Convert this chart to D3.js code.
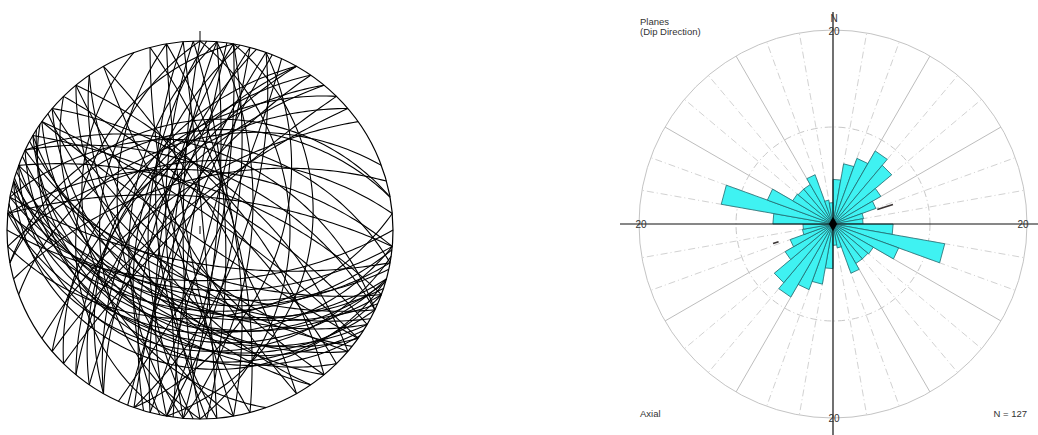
<!DOCTYPE html>
<html>
<head>
<meta charset="utf-8">
<script src="https://cdn.jsdelivr.net/npm/d3@7"></script>
<style>
  html, body { margin: 0; padding: 0; background: #fff; }
  svg { display: block; }
  text { font-family: "Liberation Sans", Arial, sans-serif; }
</style>
</head>
<body>
<svg id="chart" width="1038" height="435"></svg>
<script>
// ---- Planes: dip direction (deg from N) and dip (deg) ----
const planeDipDir = [
  // south-dipping set
  185, 190, 195, 200, 205, 210, 195, 188, 200, 192, 198, 205, 210, 215, 220,
  180, 175, 185, 195, 200, 208, 212, 218, 225, 190, 196, 203, 186, 230, 214,
  // steep, roughly N-S striking
  275, 280, 270, 285, 265, 290, 95, 100, 105, 88, 278, 272, 282, 110, 260,
  268, 95, 85, 292, 275, 100, 255, 115, 80, 287,
  // diagonal sets
  305, 310, 320, 300, 305, 310, 320, 300, 315, 315, 325, 300,
  30, 40, 45, 35, 50, 220, 230, 235, 240, 215, 25, 235, 60,
  // north-dipping set
  10, 5, 350, 355, 25, 345, 350, 20, 5, 340,
  // east / west moderate
  90, 100, 270, 280, 75, 260, 110, 250
];
const planeDip = [
  55, 48, 42, 38, 60, 35, 30, 25, 22, 52, 45, 28, 50, 40, 45,
  60, 40, 33, 18, 65, 55, 30, 62, 35, 70, 36, 47, 44, 50, 25,
  75, 68, 80, 72, 65, 78, 80, 70, 85, 75, 85, 60, 55, 65, 82,
  70, 60, 88, 82, 50, 78, 75, 80, 70, 64,
  48, 50, 50, 45, 70, 60, 75, 55, 80, 42, 65, 62,
  70, 60, 75, 80, 65, 70, 75, 60, 80, 85, 55, 50, 78,
  40, 55, 35, 50, 45, 60, 30, 65, 70, 40,
  40, 30, 35, 25, 70, 45, 45, 30
];

// ---- Rose diagram (axial): counts per 10-degree bin from 0 to 180 ----
const roseBinStart = [0, 10, 20, 30, 40, 50, 60, 70, 80, 90, 100, 110, 120, 130, 140, 150, 160, 170];
const roseCounts   = [4.6, 6.3, 7.2, 8.7, 7.9, 5.7, 4.7, 3.2, 3.1, 6.2, 11.7, 7.2, 4.8, 4.7, 4.7, 5.4, 2.5, 2.2];
const roseBinWidth = 10;
const roseMax = 20;
const ringValues = [10, 20];
const axisLabels = ["20", "20", "20", "20"];
const meanDirection = [72, 252];
const meanMarkFrom = [4.8, 5.9];
const meanMarkTo = [6.5, 6.5];
const sampleCount = 127;

const svg = d3.select("#chart");
const rad = Math.PI / 180;

// ================= Stereonet (equal angle, lower hemisphere) =================
const net = { cx: 200, cy: 230, rx: 193, ry: 189 };
const nx = d3.scaleLinear().domain([-1, 1]).range([net.cx - net.rx, net.cx + net.rx]);
const ny = d3.scaleLinear().domain([-1, 1]).range([net.cy + net.ry, net.cy - net.ry]);

// line of trend/plunge -> projected position
function project(trend, plunge) {
  const r = Math.tan((90 - plunge) * rad / 2);
  return [nx(r * Math.sin(trend * rad)), ny(r * Math.cos(trend * rad))];
}

function greatCircle(dd, dip) {
  const s = [Math.sin((dd - 90) * rad), Math.cos((dd - 90) * rad), 0];
  const d = [Math.sin(dd * rad) * Math.cos(dip * rad), Math.cos(dd * rad) * Math.cos(dip * rad), Math.sin(dip * rad)];
  const pts = [];
  for (let t = 0; t <= 180; t += 1.5) {
    const c = Math.cos(t * rad), sn = Math.sin(t * rad);
    const v = [c * s[0] + sn * d[0], c * s[1] + sn * d[1], c * s[2] + sn * d[2]];
    const plunge = Math.asin(Math.max(-1, Math.min(1, v[2]))) / rad;
    const trend = Math.atan2(v[0], v[1]) / rad;
    pts.push(project(trend, plunge));
  }
  return pts;
}

const gNet = svg.append("g");
const planes = planeDipDir.map((dd, i) => ({ dd, dip: planeDip[i] }));
gNet.selectAll("path.gc")
  .data(planes)
  .join("path")
  .attr("class", "gc")
  .attr("d", p => d3.line()(greatCircle(p.dd, p.dip)))
  .attr("fill", "none")
  .attr("stroke", "#000")
  .attr("stroke-width", 1.1);

gNet.append("ellipse")
  .attr("cx", net.cx).attr("cy", net.cy)
  .attr("rx", net.rx).attr("ry", net.ry)
  .attr("fill", "none").attr("stroke", "#000").attr("stroke-width", 1.2);

// north tick and centre mark
gNet.append("line")
  .attr("x1", nx(0)).attr("x2", nx(0))
  .attr("y1", ny(1) - 10).attr("y2", ny(1))
  .attr("stroke", "#000").attr("stroke-width", 1);
gNet.append("line")
  .attr("x1", nx(0)).attr("x2", nx(0))
  .attr("y1", ny(0) - 4).attr("y2", ny(0) + 4)
  .attr("stroke", "#000").attr("stroke-width", 1);

// ================= Rose diagram =================
const rose = { cx: 833, cy: 224 };
const rScale = d3.scaleLinear().domain([0, roseMax]).range([0, 194]);
const gRose = svg.append("g").attr("transform", `translate(${rose.cx},${rose.cy})`);

// spokes every 10 degrees
const spokeAngles = d3.range(0, 360, 10).filter(a => a % 90 !== 0);
gRose.selectAll("line.spoke")
  .data(spokeAngles)
  .join("line")
  .attr("class", "spoke")
  .attr("x1", 0).attr("y1", 0)
  .attr("x2", a => rScale(roseMax) * Math.sin(a * rad))
  .attr("y2", a => -rScale(roseMax) * Math.cos(a * rad))
  .attr("stroke", a => a % 30 === 0 ? "#bdbdbd" : "#d2d2d2")
  .attr("stroke-width", 1)
  .attr("stroke-dasharray", a => a % 30 === 0 ? null : "7,3,1,3");

// rings
gRose.selectAll("circle.ring")
  .data(ringValues)
  .join("circle")
  .attr("class", "ring")
  .attr("r", v => rScale(v))
  .attr("fill", "none")
  .attr("stroke", v => v === roseMax ? "#c4c4c4" : "#c8c8c8")
  .attr("stroke-width", 1)
  .attr("stroke-dasharray", v => v === roseMax ? null : "7,3,1,3");

// axial bins: each bin drawn at its direction and the opposite one
const petals = [];
roseBinStart.forEach((a, i) => {
  petals.push({ a0: a, v: roseCounts[i] });
  petals.push({ a0: a + 180, v: roseCounts[i] });
});
const wedge = d => {
  const r = rScale(d.v);
  const a0 = d.a0 * rad, a1 = (d.a0 + roseBinWidth) * rad;
  return d3.line()([[0, 0], [r * Math.sin(a0), -r * Math.cos(a0)], [r * Math.sin(a1), -r * Math.cos(a1)]]) + "Z";
};
gRose.selectAll("path.petal")
  .data(petals)
  .join("path")
  .attr("class", "petal")
  .attr("d", wedge)
  .attr("fill", "#3ff2f2")
  .attr("stroke", "#1f6b70")
  .attr("stroke-width", 0.8)
  .attr("stroke-linejoin", "round");

// mean direction marks
gRose.selectAll("line.mean")
  .data(meanDirection.map((a, i) => ({ a, r0: meanMarkFrom[i], r1: meanMarkTo[i] })))
  .join("line")
  .attr("class", "mean")
  .attr("x1", d => rScale(d.r0) * Math.sin(d.a * rad))
  .attr("y1", d => -rScale(d.r0) * Math.cos(d.a * rad))
  .attr("x2", d => rScale(d.r1) * Math.sin(d.a * rad))
  .attr("y2", d => -rScale(d.r1) * Math.cos(d.a * rad))
  .attr("stroke", "#3a3434")
  .attr("stroke-width", 1.6);

// main axes
gRose.append("line")
  .attr("x1", 0).attr("x2", 0)
  .attr("y1", -rScale(roseMax) - 18).attr("y2", 435 - rose.cy)
  .attr("stroke", "#111").attr("stroke-width", 1.2);
gRose.append("line")
  .attr("x1", 620 - rose.cx).attr("x2", 1038 - rose.cx)
  .attr("y1", 0).attr("y2", 0)
  .attr("stroke", "#111").attr("stroke-width", 1.2);

// centre marker
gRose.append("path")
  .attr("d", d3.symbol().type(d3.symbolDiamond).size(60)())
  .attr("fill", "#000");

// axis value labels at N, E, S, W
const labelPos = [0, 90, 180, 270].map((a, i) => ({
  a, text: axisLabels[i],
  x: rScale(roseMax) * Math.sin(a * rad),
  y: -rScale(roseMax) * Math.cos(a * rad)
}));
gRose.selectAll("text.ax")
  .data(labelPos)
  .join("text")
  .attr("class", "ax")
  .attr("x", d => d.x + (d.a === 270 ? 2 : d.a === 90 ? -4 : 1))
  .attr("y", d => d.y + (d.a === 0 ? 1 : 0))
  .attr("dy", "0.35em")
  .attr("text-anchor", "middle")
  .attr("font-size", 10)
  .attr("fill", "#333")
  .text(d => d.text);

gRose.append("text")
  .attr("x", 1).attr("y", -rScale(roseMax) - 12)
  .attr("dy", "0.35em")
  .attr("text-anchor", "middle")
  .attr("font-size", 10)
  .attr("fill", "#333")
  .text("N");

// captions
const cap = svg.append("g").attr("font-size", 9.5).attr("fill", "#333");
cap.append("text").attr("x", 640).attr("y", 25).text("Planes");
cap.append("text").attr("x", 640).attr("y", 35).text("(Dip Direction)");
cap.append("text").attr("x", 640).attr("y", 417).text("Axial");
cap.append("text").attr("x", 1027).attr("y", 417).attr("text-anchor", "end").text(`N = ${sampleCount}`);
</script>
</body>
</html>
